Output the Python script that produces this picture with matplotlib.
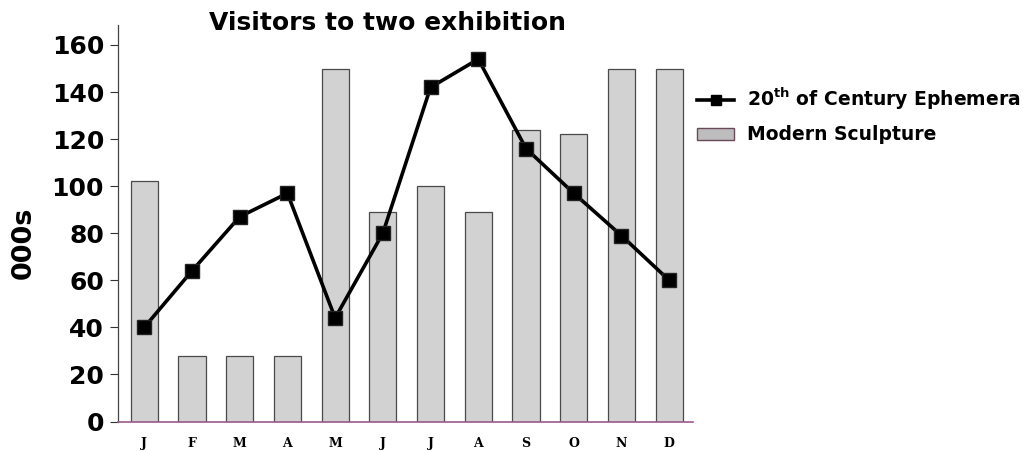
import numpy as np
import matplotlib.pyplot as plt
from matplotlib.lines import Line2D
from matplotlib.patches import Patch

plt.rcParams['font.family'] = ['DejaVu Sans']
plt.rcParams['mathtext.fontset'] = 'dejavusans'

# Données
months = ['J', 'F', 'M', 'A', 'M', 'J', 'J', 'A', 'S', 'O', 'N', 'D']
sculpture = [102, 28, 28, 28, 150, 89, 100, 89, 124, 122, 150, 150]
ephemera = [40, 64, 87, 97, 44, 80, 142, 154, 116, 97, 79, 60]
y_ticks = [0, 20, 40, 60, 80, 100, 120, 140, 160]

x = np.arange(len(months))

fig = plt.figure(figsize=(10.35, 4.51), dpi=100)
ax = fig.add_axes([0.114, 0.0654, 0.5556, 0.8792])

ax.bar(x, sculpture, width=0.57, color='#d2d2d2', edgecolor='#4a4a4a', linewidth=0.9, zorder=2)
ax.plot(x, ephemera, color='black', linewidth=2.6, marker='s', markersize=10.5,
        markerfacecolor='black', markeredgecolor='#222222', zorder=3)

ax.set_xlim(-0.55, 11.5)
ax.set_ylim(0, 168.5)
ax.set_xticks(x)
ax.set_xticklabels(months, fontsize=9, fontweight='bold', family='DejaVu Serif')
ax.set_yticks(y_ticks)
ax.set_yticklabels([str(v) for v in y_ticks], fontsize=18, fontweight='bold')
ax.tick_params(axis='x', length=0, pad=11)
ax.tick_params(axis='y', length=6, width=0.8, pad=4, color='#333333')

for s in ['top', 'right']:
    ax.spines[s].set_visible(False)
ax.spines['left'].set_color('#444444')
ax.spines['left'].set_linewidth(0.9)
ax.spines['bottom'].set_color('#9a5a8f')
ax.spines['bottom'].set_linewidth(1.2)

ax.set_ylabel('000s', fontsize=19.5, fontweight='bold')
ax.yaxis.set_label_coords(-0.142, 0.45)
fig.text(0.374, 0.95, 'Visitors to two exhibition', fontsize=18, fontweight='bold',
         ha='center', va='center')

handles = [Line2D([0], [0], color='black', linewidth=2.6, marker='s', markersize=7),
           Patch(facecolor='#bdbdbd', edgecolor='#6a4a5a', linewidth=1)]
labels = [r'20$^{\mathbf{th}}$ of Century Ephemera', 'Modern Sculpture']
leg = fig.legend(handles, labels, loc='upper left', bbox_to_anchor=(0.657, 0.847),
                 frameon=False, prop={'weight': 'bold', 'size': 13.5},
                 handlelength=2.0, handleheight=0.6, labelspacing=0.7, handletextpad=0.7)

plt.savefig('out.png', dpi=100)
